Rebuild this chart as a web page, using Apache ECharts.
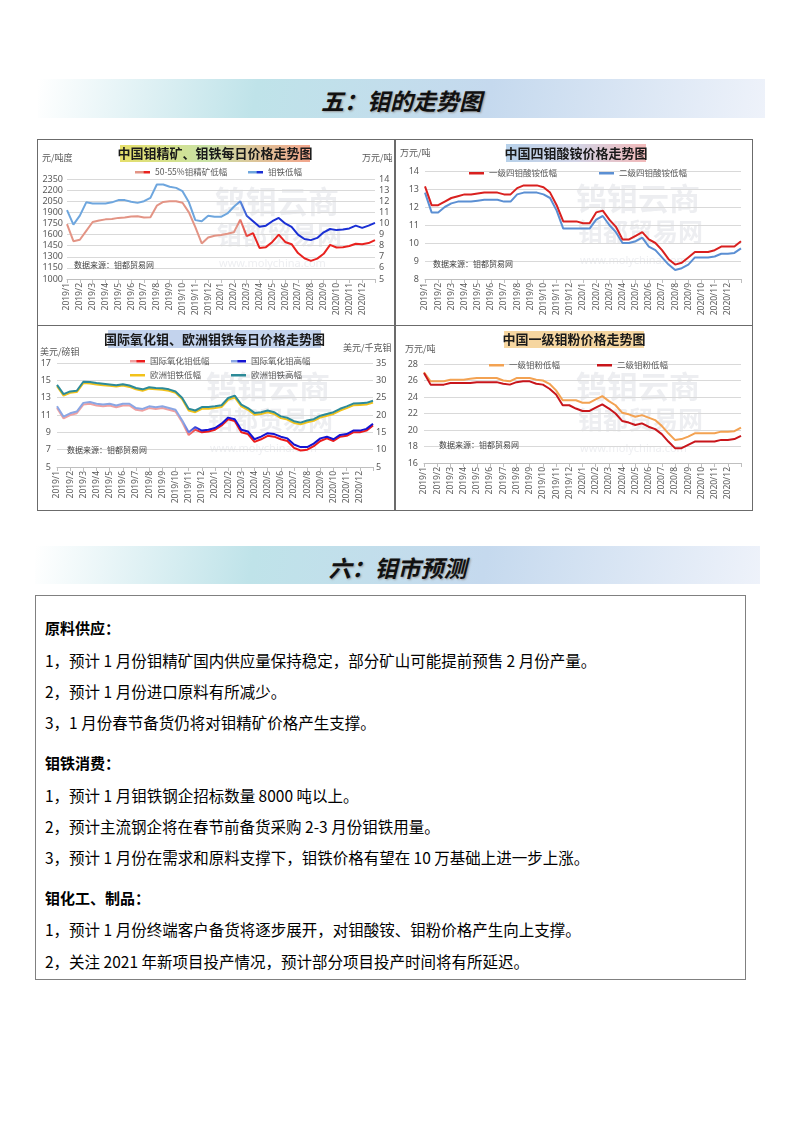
<!DOCTYPE html>
<html><head><meta charset="utf-8">
<script src="https://cdn.jsdelivr.net/npm/echarts@6/dist/echarts.min.js"></script>
<style>
body{margin:0;width:793px;height:1122px;background:#fff;position:relative;font-family:'Noto Sans CJK SC',sans-serif;overflow:hidden;}
.banner{position:absolute;background:linear-gradient(100deg,#ffffff 0%,#bfe3e9 30%,#c5d9ee 62%,#eef2fa 100%);}
.banner span{position:absolute;left:0;right:0;text-align:center;font-weight:bold;font-style:italic;font-size:23px;color:#111;text-shadow:1px 1px 2px #999;}
.chart{position:absolute;}
.frame{position:absolute;border:1px solid #6b6b6b;box-sizing:border-box;pointer-events:none;}
.box{position:absolute;left:35px;top:595px;width:711px;height:385px;border:1.5px solid #808080;box-sizing:border-box;}
.box p{position:absolute;left:9px;margin:0;font-size:15.5px;line-height:20px;color:#000;white-space:nowrap;}
.box p.h{font-weight:bold;font-size:15px;}
</style></head>
<body>
<div class="banner" style="left:38px;top:79px;width:727px;height:39px;"><span style="top:4px;">五：钼的走势图</span></div>

<div id="c1" class="chart" style="left:37px;top:139px;width:358px;height:186px;"></div>
<div id="c2" class="chart" style="left:395px;top:139px;width:358px;height:186px;"></div>
<div id="c3" class="chart" style="left:37px;top:325px;width:358px;height:185px;"></div>
<div id="c4" class="chart" style="left:395px;top:325px;width:358px;height:185px;"></div>
<div class="frame" style="left:37px;top:139px;width:358px;height:187px;"></div>
<div class="frame" style="left:395px;top:139px;width:358px;height:187px;"></div>
<div class="frame" style="left:37px;top:325px;width:358px;height:186px;"></div>
<div class="frame" style="left:395px;top:325px;width:358px;height:186px;"></div>

<div class="banner" style="left:35px;top:546px;width:725px;height:38px;"><span style="top:4px;">六：钼市预测</span></div>

<div class="box">
<p class="h" style="top:22px;">原料供应：</p>
<p style="top:54px;">1，预计 1 月份钼精矿国内供应量保持稳定，部分矿山可能提前预售 2 月份产量。</p>
<p style="top:85px;">2，预计 1 月份进口原料有所减少。</p>
<p style="top:116px;">3，1 月份春节备货仍将对钼精矿价格产生支撑。</p>
<p class="h" style="top:157px;">钼铁消费：</p>
<p style="top:189px;">1，预计 1 月钼铁钢企招标数量 8000 吨以上。</p>
<p style="top:220px;">2，预计主流钢企将在春节前备货采购 2-3 月份钼铁用量。</p>
<p style="top:251px;">3，预计 1 月份在需求和原料支撑下，钼铁价格有望在 10 万基础上进一步上涨。</p>
<p class="h" style="top:292px;">钼化工、制品：</p>
<p style="top:323px;">1，预计 1 月份终端客户备货将逐步展开，对钼酸铵、钼粉价格产生向上支撑。</p>
<p style="top:355px;">2，关注 2021 年新项目投产情况，预计部分项目投产时间将有所延迟。</p>
</div>

<script>
// ---------- tick labels ----------
const months = ['2019/1','2019/2','2019/3','2019/4','2019/5','2019/6','2019/7','2019/8','2019/9','2019/10','2019/11','2019/12',
                '2020/1','2020/2','2020/3','2020/4','2020/5','2020/6','2020/7','2020/8','2020/9','2020/10','2020/11','2020/12'];
// half-month sampling: each month label followed by a mid-month point, plus end of Dec 2020
const cats = [];
months.forEach(m => { cats.push(m); cats.push(''); });
cats.push('');

// ---------- chart 1: 钼精矿 (元/吨度, left) & 钼铁 (万元/吨, right) ----------
const concLow = [1740,1510,1530,1650,1770,1790,1805,1810,1825,1830,1845,1848,1830,1835,1990,2040,2050,2050,2030,1900,1700,1480,1560,1585,
                 1595,1610,1630,1800,1580,1620,1420,1430,1500,1600,1500,1470,1350,1280,1245,1275,1340,1460,1425,1430,1445,1475,1470,1485,1525];
const ferroLow = [11.2,9.9,10.7,11.9,11.8,11.8,11.8,11.9,12.1,12.1,11.95,11.85,12.0,12.3,13.5,13.5,13.3,13.2,12.9,11.9,10.3,10.2,10.7,10.6,
                  10.6,10.9,11.5,12.0,10.7,10.2,9.7,9.8,10.2,10.5,10.0,9.7,9.0,8.6,8.5,8.7,9.2,9.5,9.4,9.45,9.55,9.8,9.6,9.8,10.05];

// ---------- chart 2: 四钼酸铵 (万元/吨) ----------
const amm1 = [13.15,12.1,12.1,12.3,12.5,12.6,12.7,12.7,12.75,12.8,12.8,12.8,12.7,12.7,13.05,13.2,13.2,13.2,13.1,12.8,12.1,11.2,11.2,11.2,
              11.1,11.1,11.7,11.8,11.3,10.9,10.2,10.2,10.4,10.6,10.2,10.0,9.6,9.1,8.8,8.9,9.2,9.5,9.5,9.5,9.6,9.8,9.8,9.8,10.1];
const amm2 = [12.8,11.7,11.7,12.0,12.2,12.3,12.3,12.3,12.35,12.4,12.4,12.4,12.3,12.3,12.7,12.8,12.8,12.8,12.7,12.5,11.8,10.8,10.8,10.8,
              10.8,10.8,11.3,11.5,11.0,10.6,10.0,10.0,10.1,10.3,9.8,9.6,9.2,8.8,8.5,8.6,8.8,9.2,9.2,9.2,9.25,9.4,9.4,9.45,9.7];

// ---------- chart 3: 国际氧化钼 (美元/磅钼, left) & 欧洲钼铁 (美元/千克钼, right) ----------
const oxLow  = [11.8,10.6,11.0,11.2,12.2,12.3,12.1,12.0,12.1,11.9,12.1,12.1,11.6,11.5,11.8,11.7,11.8,11.6,11.4,10.2,8.7,9.3,9.0,9.1,
                9.3,9.8,10.5,10.3,9.0,8.8,7.9,8.2,8.6,8.5,8.2,8.0,7.2,6.9,7.0,7.4,8.0,8.3,8.0,8.5,8.6,9.0,9.0,9.2,9.8];
const oxHigh = [12.0,10.8,11.2,11.4,12.4,12.5,12.3,12.2,12.3,12.1,12.3,12.3,11.8,11.7,12.0,11.9,12.0,11.8,11.6,10.4,9.0,9.6,9.2,9.3,
                9.5,10.0,10.7,10.5,9.3,9.1,8.2,8.5,8.9,8.8,8.5,8.3,7.6,7.3,7.3,7.7,8.3,8.5,8.2,8.7,8.8,9.2,9.2,9.4,10.0];
const euLow  = [28.3,25.6,26.4,26.6,29.2,29.1,28.8,28.6,28.4,28.2,28.5,28.1,27.4,27.0,27.6,27.4,27.3,27.0,26.4,24.6,21.3,20.8,21.8,21.8,
                22.0,22.3,24.4,25.1,22.5,21.5,20.1,20.3,20.8,20.3,19.1,18.7,17.7,17.3,17.9,18.3,19.3,19.8,20.3,21.3,22.0,22.8,22.9,23.0,23.6];
const euHigh = [28.7,26.0,26.8,27.0,29.6,29.5,29.2,29.0,28.8,28.6,28.9,28.5,27.8,27.4,28.0,27.8,27.7,27.4,26.8,25.0,21.8,21.3,22.3,22.3,
                22.5,22.8,24.9,25.6,23.0,22.0,20.6,20.8,21.3,20.8,19.6,19.2,18.2,17.8,18.4,18.8,19.8,20.3,20.8,21.8,22.5,23.3,23.4,23.5,24.1];

// ---------- chart 4: 钼粉 (万元/吨) ----------
const pw1 = [27.0,25.9,25.9,25.9,26.1,26.1,26.1,26.2,26.3,26.3,26.3,26.3,26.0,25.9,26.3,26.3,26.3,26.1,26.0,25.6,24.8,23.6,23.6,23.6,
             23.3,23.3,23.7,24.1,23.5,23.0,22.1,21.9,21.6,21.8,21.5,21.2,20.5,19.6,18.8,18.9,19.2,19.6,19.6,19.6,19.6,19.8,19.8,19.85,20.3];
const pw2 = [26.9,25.5,25.5,25.5,25.7,25.7,25.7,25.7,25.8,25.8,25.8,25.8,25.6,25.5,25.8,25.9,25.9,25.6,25.5,25.0,24.3,23.0,23.0,22.6,
             22.3,22.3,22.7,23.1,22.6,22.0,21.1,20.9,20.6,20.8,20.4,20.1,19.5,18.6,17.8,17.8,18.2,18.6,18.6,18.6,18.6,18.8,18.8,18.9,19.3];

// ---------- helpers ----------
const FONT = '"Noto Sans", "Noto Sans CJK SC", sans-serif';
const CJK = '"Noto Sans CJK SC", sans-serif';
const LG = (stops) => new echarts.graphic.LinearGradient(0, 0, 1, 0, stops.map(s => ({offset: s[0], color: s[1]})));

function xAxis() {
  return {type: 'category', data: cats, boundaryGap: false,
    axisLine: {show: true, lineStyle: {color: '#bfbfbf', width: 1}},
    axisTick: {show: true, interval: 1, length: 4, lineStyle: {color: '#bfbfbf'}},
    axisLabel: {interval: 1, rotate: 90, fontSize: 8.5, color: '#595959', margin: 4, fontFamily: FONT,
                overflow: 'none', hideOverlap: false},
    splitLine: {show: false}};
}
function yAxis(min, max, interval, grid, margin) {
  return {type: 'value', min: min, max: max, interval: interval,
    axisLine: {show: false}, axisTick: {show: false},
    axisLabel: {fontSize: 9, color: '#595959', margin: margin, fontFamily: FONT, formatter: v => String(v)},
    splitLine: {show: grid, lineStyle: {color: '#d9d9d9', width: 1}}};
}
function line(name, data, color, yIdx, z) {
  return {name: name, type: 'line', data: data, yAxisIndex: yIdx || 0, symbol: 'none', z: z || 2,
    lineStyle: {width: 2, color: color}, itemStyle: {color: color}, animation: false};
}
function leg(name, left, top) {
  return {data: [name], left: left, top: top, icon: 'rect', itemWidth: 15, itemHeight: 2.5, padding: 0,
    textStyle: {fontSize: 8.5, color: '#595959', fontFamily: CJK}};
}
function txt(text, left, top, size, color, extra) {
  return Object.assign({type: 'text', left: left, top: top, z: 10,
    style: {text: text, font: size + 'px ' + CJK, fill: color}}, extra || {});
}
function titleBox(text, x, y, w, h, fill) {
  return {type: 'group', z: 20, children: [
    {type: 'rect', shape: {x: x, y: y, width: w, height: h}, style: {fill: fill}},
    {type: 'text', style: {x: x + w / 2, y: y + h / 2, text: text, align: 'center', verticalAlign: 'middle',
      font: 'bold 13px ' + CJK, fill: '#1a1a1a'}}
  ]};
}
function watermark(x, y) {
  const c = 'rgba(190,195,205,0.28)';
  return [
    {type: 'text', left: x, top: y, z: 0, silent: true, style: {text: '钨钼云商', font: 'bold 31px ' + CJK, fill: c}},
    {type: 'text', left: x + 2, top: y + 36, z: 0, silent: true, style: {text: '钼都贸易网', font: 'bold 25px ' + CJK, fill: c}},
    {type: 'text', left: x + 4, top: y + 72, z: 0, silent: true, style: {text: 'www.molychina.com', font: '11px ' + FONT, fill: c}}
  ];
}
function make(id, opt) {
  const ch = echarts.init(document.getElementById(id), null, {renderer: 'canvas'});
  opt.animation = false;
  opt.backgroundColor = '#ffffff';
  opt.grid.outerBoundsMode = 'none';
  opt.grid.containLabel = false;
  ch.setOption(opt);
}

// ---------- chart 1 ----------
make('c1', {
  grid: {left: 30, right: 20, top: 40, bottom: 46},
  xAxis: xAxis(),
  yAxis: [yAxis(1000, 2350, 150, true, 4), yAxis(5, 14, 1, false, 4)],
  legend: [leg('50-55%钼精矿低幅', 98, 29), leg('钼铁低幅', 211, 29)],
  series: [
    line('50-55%钼精矿低幅', concLow, LG([[0, '#e39485'], [0.55, '#e39485'], [0.6, '#e8221f'], [1, '#e8221f']]), 0, 2),
    line('钼铁低幅', ferroLow, LG([[0, '#6ea6de'], [0.55, '#6ea6de'], [0.6, '#1a2fd4'], [1, '#1a2fd4']]), 1, 3)
  ],
  graphic: [].concat(watermark(178, 47), [
    titleBox('中国钼精矿、钼铁每日价格走势图', 83, 6, 190, 17, LG([[0, '#e6df6a'], [0.45, '#c9e2a6'], [1, '#f3a58c']])),
    txt('元/吨度', 5, 14, 9, '#595959'),
    txt('万元/吨', 325, 14, 9, '#595959'),
    txt('数据来源：钼都贸易网', 37, 122, 8, '#404040')
  ])
});

// ---------- chart 2 ----------
make('c2', {
  grid: {left: 30, right: 12, top: 32, bottom: 46},
  xAxis: xAxis(),
  yAxis: [yAxis(8, 14, 1, true, 6)],
  legend: [leg('一级四钼酸铵低幅', 74, 30), leg('二级四钼酸铵低幅', 204, 30)],
  series: [
    line('一级四钼酸铵低幅', amm1, '#d9201f', 0, 3),
    line('二级四钼酸铵低幅', amm2, '#5b8fd3', 0, 2)
  ],
  graphic: [].concat(watermark(181, 44), [
    titleBox('中国四钼酸铵价格走势图', 111, 5, 140, 18, LG([[0, '#b7d1ea'], [0.5, '#d3d4e6'], [1, '#f2b9b9']])),
    txt('万元/吨', 5, 9, 9, '#595959'),
    txt('数据来源：钼都贸易网', 38, 121, 8, '#404040')
  ])
});

// ---------- chart 3 ----------
make('c3', {
  grid: {left: 20, right: 22, top: 38, bottom: 43},
  xAxis: xAxis(),
  yAxis: [yAxis(5, 17, 2, true, 6), yAxis(5, 35, 5, false, 3)],
  legend: [leg('国际氧化钼低幅', 93, 32), leg('国际氧化钼高幅', 194, 32),
           leg('欧洲钼铁低幅', 93, 46), leg('欧洲钼铁高幅', 194, 46)],
  series: [
    line('国际氧化钼低幅', oxLow, LG([[0, '#f0a0a0'], [0.4, '#f0a0a0'], [0.46, '#ec1c1c'], [1, '#ec1c1c']]), 0, 2),
    line('国际氧化钼高幅', oxHigh, LG([[0, '#8aa6e4'], [0.4, '#8aa6e4'], [0.46, '#1414d2'], [1, '#1414d2']]), 0, 3),
    line('欧洲钼铁低幅', euLow, '#f2c21a', 1, 4),
    line('欧洲钼铁高幅', euHigh, '#2c8a98', 1, 5)
  ],
  graphic: [].concat(watermark(169, 46), [
    titleBox('国际氧化钼、欧洲钼铁每日价格走势图', 71, 5, 213, 18, '#c3d3ed'),
    txt('美元/磅钼', 3, 22, 9, '#595959'),
    txt('美元/千克钼', 306, 18, 9, '#595959'),
    txt('数据来源：钼都贸易网', 30, 121, 8, '#404040')
  ])
});

// ---------- chart 4 ----------
make('c4', {
  grid: {left: 29, right: 12, top: 39, bottom: 47},
  xAxis: xAxis(),
  yAxis: [yAxis(16, 28, 2, true, 6)],
  legend: [leg('一级钼粉低幅', 94, 36), leg('二级钼粉低幅', 202, 36)],
  series: [
    line('一级钼粉低幅', pw1, '#f3a252', 0, 2),
    line('二级钼粉低幅', pw2, '#c8151b', 0, 3)
  ],
  graphic: [].concat(watermark(181, 46), [
    titleBox('中国一级钼粉价格走势图', 109, 6, 140, 17, '#f6d6a0'),
    txt('万元/吨', 10, 19, 9, '#595959'),
    txt('数据来源：钼都贸易网', 44, 116, 8, '#404040')
  ])
});
</script>
</body></html>
